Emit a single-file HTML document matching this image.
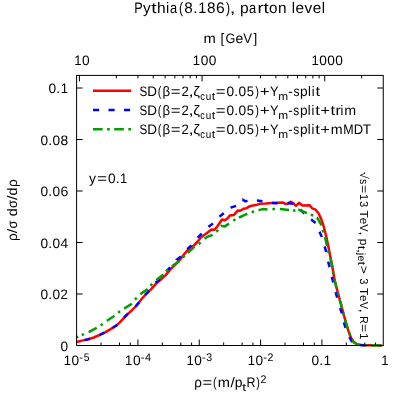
<!DOCTYPE html>
<html><head><meta charset="utf-8"><title>plot</title>
<style>html,body{margin:0;padding:0;background:#fff;}svg{display:block;will-change:transform;}svg text{text-rendering:geometricPrecision;}text{fill:#000;}</style></head><body>
<svg width="407" height="407" viewBox="0 0 407 407">
<rect width="407" height="407" fill="#fff"/>
<g fill="none" stroke-width="2.5" stroke-linejoin="round" stroke-linecap="butt">
<polyline stroke="#ff0000" points="76.6,342.0 81.9,340.6 87.8,339.4 93.7,337.5 99.6,335.0 105.5,332.1 111.4,328.6 116.0,325.8 119.5,322.6 122.8,319.1 126.7,314.9 131.7,310.5 135.6,306.5 138.5,303.1 141.5,299.2 145.4,294.7 148.9,291.3 151.0,289.3 155.9,283.9 160.8,279.5 165.7,275.1 170.6,269.2 175.5,264.3 180.4,259.3 184.2,254.1 188.9,248.9 193.8,245.5 197.8,241.5 200.7,237.6 204.6,234.7 208.6,231.7 211.5,229.5 214.5,229.7 217.4,226.3 220.0,222.5 222.0,219.5 224.9,220.3 227.4,218.5 229.8,215.4 233.8,215.1 237.7,210.6 240.1,210.8 243.6,208.7 246.5,208.2 250.5,205.9 254.4,205.2 257.3,204.7 259.9,203.7 265.8,203.4 271.7,202.9 277.6,202.7 282.5,202.5 285.5,203.9 287.5,203.7 290.9,201.7 293.3,203.2 295.9,205.8 298.9,202.9 302.8,205.6 309.7,205.3 312.1,208.3 315.6,209.7 318.5,213.2 321.0,218.6 323.4,225.5 325.4,233.3 326.2,235.9 328.2,245.7 330.1,255.5 332.1,265.3 332.9,270.0 334.5,279.6 336.1,286.0 338.5,295.0 339.8,300.0 341.1,304.3 342.0,308.0 344.1,315.9 346.2,323.7 348.7,331.6 351.1,338.0 353.6,341.9 356.5,344.1 360.5,345.0 370.0,345.3 382.2,345.5"/>
<path stroke="#0000ff" d="M84.6,340.0 L87.8,339.4 L90.1,338.7 M99.4,335.1 L99.6,335.0 L104.5,332.6 M112.7,327.8 L116.0,325.8 L117.3,324.6 M124.1,317.7 L126.7,314.9 L128.1,313.7 M135.5,306.6 L135.6,306.5 L138.5,303.1 L139.1,302.3 M145.3,294.9 L145.4,294.7 L148.9,291.0 L149.1,290.7 M155.5,282.8 L159.3,279.8 L159.8,279.2 M166.2,271.3 L166.2,271.3 L170.1,267.5 L170.2,267.4 M176.5,260.1 L176.5,260.0 L180.9,256.5 L180.9,256.5 M187.3,249.1 L187.4,249.0 L191.4,245.4 L191.5,245.3 M197.7,237.8 L197.8,237.6 L201.7,233.7 M208.5,226.9 L208.6,226.8 L213.0,223.6 L213.0,223.6 M219.5,216.8 L220.0,216.2 L223.4,213.6 L223.9,213.2 M230.6,207.8 L230.8,207.7 L236.0,205.8 M242.5,199.7 L242.6,199.6 L245.6,201.3 L247.5,200.6 M256.9,200.5 L257.2,200.5 L262.4,201.2 L262.5,201.2 M272.0,202.9 L272.2,202.9 L277.7,203.2 M287.7,203.2 L287.9,203.2 L293.4,203.7 M300.3,209.4 L300.4,209.5 L303.8,213.2 L304.2,213.5 M311.0,219.5 L311.2,219.6 L315.6,223.0 M319.5,231.7 L319.6,231.9 L321.6,236.5 L321.7,237.0 M324.6,246.5 L324.7,246.7 L326.2,252.0 M328.1,261.6 L328.2,261.9 L329.6,267.1 M331.7,277.0 L331.8,277.3 L333.3,282.2 L333.4,282.5 M335.6,292.2 L335.7,292.5 L337.1,297.4 L337.2,297.7 M340.1,308.1 L341.6,312.4 L341.9,313.5 M343.9,322.4 L345.3,327.2 L345.6,327.8 M349.3,337.1 L352.0,341.6 L352.3,341.9 M360.3,345.0 L360.5,345.0 L364.4,345.3 L366.0,345.3"/>
<path stroke="#00a000" d="M76.6,337.4 L78.3,336.7 M88.6,332.2 L88.8,332.1 L96.1,328.1 L96.7,327.7 M106.8,320.9 L107.0,320.8 L113.8,316.2 L114.4,315.7 M124.1,308.6 L124.3,308.5 L131.2,304.1 L131.7,303.5 M140.4,294.4 L140.5,294.3 L143.5,291.8 L146.9,289.8 L147.7,288.9 M156.3,280.1 L156.4,280.0 L162.7,275.1 L163.4,274.4 M172.0,266.3 L172.1,266.2 L179.0,261.3 L179.4,260.9 M187.8,252.9 L187.9,252.8 L194.3,246.9 L194.5,246.7 M204.5,238.7 L204.6,238.6 L208.0,236.5 L212.0,235.1 L212.6,234.6 M220.8,225.9 L220.9,225.8 L224.9,226.4 L229.0,223.6 M239.0,217.6 L239.2,217.5 L246.5,214.1 L247.4,213.8 M258.4,210.1 L258.5,210.1 L262.9,209.1 L267.3,209.4 L267.5,209.4 M279.9,209.1 L280.1,209.1 L288.9,210.1 L289.0,210.1 M298.2,209.7 L298.4,209.7 L306.7,213.0 L306.8,213.0 M316.9,217.5 L317.1,217.6 L321.0,224.5 L321.3,225.5 M325.0,237.0 L325.1,237.3 L327.0,246.0 M330.4,258.2 L330.5,258.5 L332.3,267.2 M334.3,279.1 L334.4,279.6 L336.0,286.0 L336.5,288.0 M339.6,299.6 L339.7,300.0 L341.0,304.3 L341.9,308.0 L342.0,308.5 M81.7,335.2 L82.9,334.7 L84.1,334.2 M100.6,325.4 L101.7,324.7 L102.7,323.9 M118.1,312.7 L119.1,311.9 L120.2,311.2 M135.0,299.7 L135.9,298.7 L136.8,297.8 M150.5,285.8 L151.3,284.9 L152.3,283.9 M166.3,271.5 L167.2,270.6 L168.2,269.7 M182.7,257.6 L183.6,256.7 L184.6,255.8 M198.6,244.0 L199.7,243.3 L200.6,242.4 M216.2,231.7 L217.2,230.9 L218.0,229.8 M233.2,220.7 L234.3,220.0 L235.5,219.4 M251.7,212.2 L252.9,211.8 L254.1,211.4 M272.4,209.2 L273.7,209.1 L275.0,209.1 M292.9,210.5 L294.2,210.6 L295.4,210.3 M310.8,214.6 L312.0,215.1 L313.2,215.7 M322.8,229.9 L323.2,231.2 L323.6,232.4 M328.2,250.5 L328.6,251.9 L328.9,253.1 M333.0,271.4 L333.5,274.0 M337.8,292.6 L338.4,295.0 L338.4,295.1 M343.2,312.7 L343.8,315.2 M345.1,319.9 L346.2,323.7 L347.8,328.8 M349.2,333.0 L350.1,335.5 M352.3,339.8 L353.6,341.9 L356.5,344.1 L359.5,344.8 M364.0,345.1 L366.6,345.2 M371.5,345.3 L380.7,345.5"/>
<path stroke="#ff0000" d="M93,90.8 H131.2"/>
<path stroke="#0000ff" stroke-dasharray="6.1 9.4" d="M93,110.0 H131.2"/>
<path stroke="#00a000" stroke-dasharray="9.6 4.5 2.7 4.4" d="M93,129.3 H131.2"/>
</g>
<g stroke="#000" stroke-width="1" fill="none" shape-rendering="auto">
<path d="M101.01,345.5 v-3.0"/>
<path d="M119.47,345.5 v-3.0"/>
<path d="M130.27,345.5 v-3.0"/>
<path d="M137.93,345.5 v-6.0"/>
<path d="M162.34,345.5 v-3.0"/>
<path d="M180.80,345.5 v-3.0"/>
<path d="M191.60,345.5 v-3.0"/>
<path d="M199.26,345.5 v-6.0"/>
<path d="M223.67,345.5 v-3.0"/>
<path d="M242.13,345.5 v-3.0"/>
<path d="M252.93,345.5 v-3.0"/>
<path d="M260.59,345.5 v-6.0"/>
<path d="M285.00,345.5 v-3.0"/>
<path d="M303.46,345.5 v-3.0"/>
<path d="M314.26,345.5 v-3.0"/>
<path d="M321.92,345.5 v-6.0"/>
<path d="M346.33,345.5 v-3.0"/>
<path d="M364.79,345.5 v-3.0"/>
<path d="M375.59,345.5 v-3.0"/>
<path d="M79.41,75.4 v6.0"/>
<path d="M116.33,75.4 v3.0"/>
<path d="M137.93,75.4 v3.0"/>
<path d="M153.25,75.4 v3.0"/>
<path d="M165.14,75.4 v3.0"/>
<path d="M174.85,75.4 v3.0"/>
<path d="M183.07,75.4 v3.0"/>
<path d="M190.18,75.4 v3.0"/>
<path d="M196.45,75.4 v3.0"/>
<path d="M202.07,75.4 v6.0"/>
<path d="M238.99,75.4 v3.0"/>
<path d="M260.59,75.4 v3.0"/>
<path d="M275.91,75.4 v3.0"/>
<path d="M287.80,75.4 v3.0"/>
<path d="M297.51,75.4 v3.0"/>
<path d="M305.73,75.4 v3.0"/>
<path d="M312.84,75.4 v3.0"/>
<path d="M319.11,75.4 v3.0"/>
<path d="M324.73,75.4 v6.0"/>
<path d="M361.65,75.4 v3.0"/>
<path d="M76.6,294.00 h6.0"/>
<path d="M383.25,294.00 h-6.0"/>
<path d="M76.6,242.50 h6.0"/>
<path d="M383.25,242.50 h-6.0"/>
<path d="M76.6,191.00 h6.0"/>
<path d="M383.25,191.00 h-6.0"/>
<path d="M76.6,139.50 h6.0"/>
<path d="M383.25,139.50 h-6.0"/>
<path d="M76.6,88.00 h6.0"/>
<path d="M383.25,88.00 h-6.0"/>
</g>
<rect x="76.6" y="75.4" width="306.65" height="270.1" fill="none" stroke="#000" stroke-width="1"/>
<g font-family="'Liberation Sans', sans-serif">
<text transform="translate(134.37,13.20) scale(0.829,1)" font-size="15.26">P</text>
<text transform="translate(143.01,13.20) scale(1.006,1)" font-size="15.26">y</text>
<text transform="translate(151.17,13.20) scale(1.252,1)" font-size="15.26">t</text>
<text transform="translate(156.91,13.20) scale(1.017,1)" font-size="15.26">h</text>
<text transform="translate(166.11,13.20) scale(0.958,1)" font-size="15.26">i</text>
<text transform="translate(170.03,13.20) scale(0.842,1)" font-size="15.26">a</text>
<text transform="translate(178.93,13.20) scale(0.800,1)" font-size="15.26">(</text>
<text transform="translate(184.36,13.20) scale(0.998,1)" font-size="15.26">8</text>
<text transform="translate(193.26,13.20) scale(1.014,1)" font-size="15.26">.</text>
<text transform="translate(198.17,13.20) scale(0.943,1)" font-size="15.26">1</text>
<text transform="translate(207.10,13.20) scale(0.998,1)" font-size="15.26">8</text>
<text transform="translate(216.09,13.20) scale(1.022,1)" font-size="15.26">6</text>
<text transform="translate(226.03,13.20) scale(0.800,1)" font-size="15.26">)</text>
<text transform="translate(229.82,13.20) scale(1.350,1)" font-size="15.26">,</text>
<text transform="translate(239.94,13.20) scale(1.019,1)" font-size="15.26">p</text>
<text transform="translate(249.03,13.20) scale(0.842,1)" font-size="15.26">a</text>
<text transform="translate(257.56,13.20) scale(1.200,1)" font-size="15.26">r</text>
<text transform="translate(263.45,13.20) scale(1.252,1)" font-size="15.26">t</text>
<text transform="translate(269.11,13.20) scale(0.996,1)" font-size="15.26">o</text>
<text transform="translate(277.98,13.20) scale(1.010,1)" font-size="15.26">n</text>
<text transform="translate(291.67,13.20) scale(0.958,1)" font-size="15.26">l</text>
<text transform="translate(295.41,13.20) scale(1.012,1)" font-size="15.26">e</text>
<text transform="translate(304.45,13.20) scale(1.011,1)" font-size="15.26">v</text>
<text transform="translate(312.67,13.20) scale(1.012,1)" font-size="15.26">e</text>
<text transform="translate(321.69,13.20) scale(0.958,1)" font-size="15.26">l</text>
<text transform="translate(203.50,42.90) scale(1.075,1)" font-size="13.77">m</text>
<text transform="translate(220.45,42.90) scale(0.983,1)" font-size="13.77">[</text>
<text transform="translate(225.39,42.90) scale(0.920,1)" font-size="13.77">G</text>
<text transform="translate(235.42,42.90) scale(1.019,1)" font-size="13.77">e</text>
<text transform="translate(243.34,42.90) scale(0.958,1)" font-size="13.77">V</text>
<text transform="translate(253.46,42.90) scale(0.983,1)" font-size="13.77">]</text>
<text transform="translate(74.14,65.00) scale(0.950,1)" font-size="13.77">1</text>
<text transform="translate(82.03,65.00) scale(0.995,1)" font-size="13.77">0</text>
<text transform="translate(192.80,65.00) scale(0.950,1)" font-size="13.77">1</text>
<text transform="translate(200.69,65.00) scale(0.995,1)" font-size="13.77">0</text>
<text transform="translate(208.69,65.00) scale(0.995,1)" font-size="13.77">0</text>
<text transform="translate(311.46,65.00) scale(0.950,1)" font-size="13.77">1</text>
<text transform="translate(319.35,65.00) scale(0.995,1)" font-size="13.77">0</text>
<text transform="translate(327.35,65.00) scale(0.995,1)" font-size="13.77">0</text>
<text transform="translate(335.35,65.00) scale(0.995,1)" font-size="13.77">0</text>
<text transform="translate(60.52,350.50) scale(0.995,1)" font-size="13.77">0</text>
<text transform="translate(40.52,299.00) scale(0.995,1)" font-size="13.77">0</text>
<text transform="translate(48.31,299.00) scale(1.021,1)" font-size="13.77">.</text>
<text transform="translate(52.52,299.00) scale(0.995,1)" font-size="13.77">0</text>
<text transform="translate(60.49,299.00) scale(0.959,1)" font-size="13.77">2</text>
<text transform="translate(40.52,247.50) scale(0.995,1)" font-size="13.77">0</text>
<text transform="translate(48.31,247.50) scale(1.021,1)" font-size="13.77">.</text>
<text transform="translate(52.52,247.50) scale(0.995,1)" font-size="13.77">0</text>
<text transform="translate(60.52,247.50) scale(0.995,1)" font-size="13.77">4</text>
<text transform="translate(40.52,196.00) scale(0.995,1)" font-size="13.77">0</text>
<text transform="translate(48.31,196.00) scale(1.021,1)" font-size="13.77">.</text>
<text transform="translate(52.52,196.00) scale(0.995,1)" font-size="13.77">0</text>
<text transform="translate(60.39,196.00) scale(1.030,1)" font-size="13.77">6</text>
<text transform="translate(40.52,144.50) scale(0.995,1)" font-size="13.77">0</text>
<text transform="translate(48.31,144.50) scale(1.021,1)" font-size="13.77">.</text>
<text transform="translate(52.52,144.50) scale(0.995,1)" font-size="13.77">0</text>
<text transform="translate(60.48,144.50) scale(1.006,1)" font-size="13.77">8</text>
<text transform="translate(48.52,93.00) scale(0.995,1)" font-size="13.77">0</text>
<text transform="translate(56.31,93.00) scale(1.021,1)" font-size="13.77">.</text>
<text transform="translate(60.63,93.00) scale(0.950,1)" font-size="13.77">1</text>
<text transform="translate(63.73,364.80) scale(0.950,1)" font-size="13.77">1</text>
<text transform="translate(71.62,364.80) scale(0.995,1)" font-size="13.77">0</text>
<text transform="translate(79.31,360.80) scale(1.017,1)" font-size="11.02">-</text>
<text transform="translate(83.69,360.80) scale(0.939,1)" font-size="11.02">5</text>
<text transform="translate(125.06,364.80) scale(0.950,1)" font-size="13.77">1</text>
<text transform="translate(132.95,364.80) scale(0.995,1)" font-size="13.77">0</text>
<text transform="translate(140.64,360.80) scale(1.017,1)" font-size="11.02">-</text>
<text transform="translate(144.89,360.80) scale(0.995,1)" font-size="11.02">4</text>
<text transform="translate(186.39,364.80) scale(0.950,1)" font-size="13.77">1</text>
<text transform="translate(194.28,364.80) scale(0.995,1)" font-size="13.77">0</text>
<text transform="translate(201.97,360.80) scale(1.017,1)" font-size="11.02">-</text>
<text transform="translate(206.35,360.80) scale(0.955,1)" font-size="11.02">3</text>
<text transform="translate(247.72,364.80) scale(0.950,1)" font-size="13.77">1</text>
<text transform="translate(255.61,364.80) scale(0.995,1)" font-size="13.77">0</text>
<text transform="translate(263.30,360.80) scale(1.017,1)" font-size="11.02">-</text>
<text transform="translate(267.52,360.80) scale(0.959,1)" font-size="11.02">2</text>
<text transform="translate(311.54,364.80) scale(0.995,1)" font-size="13.77">0</text>
<text transform="translate(319.33,364.80) scale(1.021,1)" font-size="13.77">.</text>
<text transform="translate(323.65,364.80) scale(0.950,1)" font-size="13.77">1</text>
<text transform="translate(381.18,364.80) scale(0.950,1)" font-size="13.77">1</text>
<text transform="translate(194.29,387.20) scale(0.980,1)" font-size="13.77">ρ</text>
<text transform="translate(202.44,387.20) scale(1.199,1)" font-size="13.77">=</text>
<text transform="translate(213.12,387.20) scale(0.800,1)" font-size="13.77">(</text>
<text transform="translate(217.85,387.20) scale(1.060,1)" font-size="13.77">m</text>
<text transform="translate(230.47,387.20) scale(1.128,1)" font-size="13.77">/</text>
<text transform="translate(234.68,387.20) scale(1.012,1)" font-size="13.77">p</text>
<text transform="translate(242.37,391.10) scale(1.261,1)" font-size="11.02">t</text>
<text transform="translate(246.56,387.20) scale(0.903,1)" font-size="13.77">R</text>
<text transform="translate(256.27,387.20) scale(0.800,1)" font-size="13.77">)</text>
<text transform="translate(260.53,383.20) scale(0.959,1)" font-size="11.02">2</text>
<g transform="translate(16.7,210.2) rotate(-90)">
<text transform="translate(-30.89,0.00) scale(0.994,1)" font-size="13.77">ρ</text>
<text transform="translate(-22.94,0.00) scale(1.144,1)" font-size="13.77">/</text>
<text transform="translate(-18.38,0.00) scale(0.926,1)" font-size="13.77">σ</text>
<text transform="translate(-6.06,0.00) scale(1.026,1)" font-size="13.77">d</text>
<text transform="translate(2.25,0.00) scale(0.926,1)" font-size="13.77">σ</text>
<text transform="translate(10.31,0.00) scale(1.144,1)" font-size="13.77">/</text>
<text transform="translate(14.81,0.00) scale(1.026,1)" font-size="13.77">d</text>
<text transform="translate(23.24,0.00) scale(0.994,1)" font-size="13.77">ρ</text>
</g>
<text transform="translate(88.95,182.90) scale(1.013,1)" font-size="13.77">y</text>
<text transform="translate(97.16,182.90) scale(1.216,1)" font-size="13.77">=</text>
<text transform="translate(107.92,182.90) scale(0.995,1)" font-size="13.77">0</text>
<text transform="translate(115.71,182.90) scale(1.021,1)" font-size="13.77">.</text>
<text transform="translate(120.03,182.90) scale(0.950,1)" font-size="13.77">1</text>
<text transform="translate(139.53,95.80) scale(0.841,1)" font-size="13.77">S</text>
<text transform="translate(147.37,95.80) scale(0.976,1)" font-size="13.77">D</text>
<text transform="translate(157.63,95.80) scale(0.800,1)" font-size="13.77">(</text>
<text transform="translate(162.51,95.80) scale(0.957,1)" font-size="13.77">β</text>
<text transform="translate(170.76,95.80) scale(1.216,1)" font-size="13.77">=</text>
<text transform="translate(181.49,95.80) scale(0.959,1)" font-size="13.77">2</text>
<text transform="translate(188.55,95.80) scale(1.350,1)" font-size="13.77">,</text>
<text transform="translate(193.24,95.80) scale(1.103,1)" font-size="13.77">ζ</text>
<text transform="translate(200.32,99.70) scale(0.836,1)" font-size="11.02">c</text>
<text transform="translate(205.63,99.70) scale(0.898,1)" font-size="11.02">u</text>
<text transform="translate(211.73,99.70) scale(1.113,1)" font-size="11.02">t</text>
<text transform="translate(215.76,95.80) scale(1.216,1)" font-size="13.77">=</text>
<text transform="translate(226.52,95.80) scale(0.995,1)" font-size="13.77">0</text>
<text transform="translate(234.31,95.80) scale(1.021,1)" font-size="13.77">.</text>
<text transform="translate(238.52,95.80) scale(0.995,1)" font-size="13.77">0</text>
<text transform="translate(246.69,95.80) scale(0.939,1)" font-size="13.77">5</text>
<text transform="translate(255.17,95.80) scale(0.800,1)" font-size="13.77">)</text>
<text transform="translate(259.76,95.80) scale(1.216,1)" font-size="13.77">+</text>
<text transform="translate(269.89,95.80) scale(0.931,1)" font-size="13.77">Y</text>
<text transform="translate(278.36,99.70) scale(1.075,1)" font-size="11.02">m</text>
<text transform="translate(288.21,95.80) scale(0.987,1)" font-size="13.77">-</text>
<text transform="translate(293.40,95.80) scale(0.877,1)" font-size="13.77">s</text>
<text transform="translate(300.10,95.80) scale(0.996,1)" font-size="13.77">p</text>
<text transform="translate(307.91,95.80) scale(0.935,1)" font-size="13.77">l</text>
<text transform="translate(311.80,95.80) scale(0.935,1)" font-size="13.77">i</text>
<text transform="translate(315.44,95.80) scale(1.223,1)" font-size="13.77">t</text>
<text transform="translate(139.53,114.90) scale(0.841,1)" font-size="13.77">S</text>
<text transform="translate(147.37,114.90) scale(0.976,1)" font-size="13.77">D</text>
<text transform="translate(157.63,114.90) scale(0.800,1)" font-size="13.77">(</text>
<text transform="translate(162.51,114.90) scale(0.957,1)" font-size="13.77">β</text>
<text transform="translate(170.76,114.90) scale(1.216,1)" font-size="13.77">=</text>
<text transform="translate(181.49,114.90) scale(0.959,1)" font-size="13.77">2</text>
<text transform="translate(188.55,114.90) scale(1.350,1)" font-size="13.77">,</text>
<text transform="translate(193.24,114.90) scale(1.103,1)" font-size="13.77">ζ</text>
<text transform="translate(200.32,118.80) scale(0.836,1)" font-size="11.02">c</text>
<text transform="translate(205.63,118.80) scale(0.898,1)" font-size="11.02">u</text>
<text transform="translate(211.73,118.80) scale(1.113,1)" font-size="11.02">t</text>
<text transform="translate(215.76,114.90) scale(1.216,1)" font-size="13.77">=</text>
<text transform="translate(226.52,114.90) scale(0.995,1)" font-size="13.77">0</text>
<text transform="translate(234.31,114.90) scale(1.021,1)" font-size="13.77">.</text>
<text transform="translate(238.52,114.90) scale(0.995,1)" font-size="13.77">0</text>
<text transform="translate(246.69,114.90) scale(0.939,1)" font-size="13.77">5</text>
<text transform="translate(255.17,114.90) scale(0.800,1)" font-size="13.77">)</text>
<text transform="translate(259.76,114.90) scale(1.216,1)" font-size="13.77">+</text>
<text transform="translate(269.89,114.90) scale(0.931,1)" font-size="13.77">Y</text>
<text transform="translate(278.36,118.80) scale(1.075,1)" font-size="11.02">m</text>
<text transform="translate(288.21,114.90) scale(0.979,1)" font-size="13.77">-</text>
<text transform="translate(293.35,114.90) scale(0.870,1)" font-size="13.77">s</text>
<text transform="translate(300.00,114.90) scale(0.988,1)" font-size="13.77">p</text>
<text transform="translate(307.76,114.90) scale(0.928,1)" font-size="13.77">l</text>
<text transform="translate(311.61,114.90) scale(0.928,1)" font-size="13.77">i</text>
<text transform="translate(315.22,114.90) scale(1.213,1)" font-size="13.77">t</text>
<text transform="translate(320.48,114.90) scale(1.170,1)" font-size="13.77">+</text>
<text transform="translate(330.61,114.90) scale(1.213,1)" font-size="13.77">t</text>
<text transform="translate(335.41,114.90) scale(1.163,1)" font-size="13.77">r</text>
<text transform="translate(340.47,114.90) scale(0.928,1)" font-size="13.77">i</text>
<text transform="translate(344.18,114.90) scale(1.034,1)" font-size="13.77">m</text>
<text transform="translate(139.53,134.20) scale(0.841,1)" font-size="13.77">S</text>
<text transform="translate(147.37,134.20) scale(0.976,1)" font-size="13.77">D</text>
<text transform="translate(157.63,134.20) scale(0.800,1)" font-size="13.77">(</text>
<text transform="translate(162.51,134.20) scale(0.957,1)" font-size="13.77">β</text>
<text transform="translate(170.76,134.20) scale(1.216,1)" font-size="13.77">=</text>
<text transform="translate(181.49,134.20) scale(0.959,1)" font-size="13.77">2</text>
<text transform="translate(188.55,134.20) scale(1.350,1)" font-size="13.77">,</text>
<text transform="translate(193.24,134.20) scale(1.103,1)" font-size="13.77">ζ</text>
<text transform="translate(200.32,138.10) scale(0.836,1)" font-size="11.02">c</text>
<text transform="translate(205.63,138.10) scale(0.898,1)" font-size="11.02">u</text>
<text transform="translate(211.73,138.10) scale(1.113,1)" font-size="11.02">t</text>
<text transform="translate(215.76,134.20) scale(1.216,1)" font-size="13.77">=</text>
<text transform="translate(226.52,134.20) scale(0.995,1)" font-size="13.77">0</text>
<text transform="translate(234.31,134.20) scale(1.021,1)" font-size="13.77">.</text>
<text transform="translate(238.52,134.20) scale(0.995,1)" font-size="13.77">0</text>
<text transform="translate(246.69,134.20) scale(0.939,1)" font-size="13.77">5</text>
<text transform="translate(255.17,134.20) scale(0.800,1)" font-size="13.77">)</text>
<text transform="translate(259.76,134.20) scale(1.216,1)" font-size="13.77">+</text>
<text transform="translate(269.89,134.20) scale(0.931,1)" font-size="13.77">Y</text>
<text transform="translate(278.36,138.10) scale(1.075,1)" font-size="11.02">m</text>
<text transform="translate(288.21,134.20) scale(0.978,1)" font-size="13.77">-</text>
<text transform="translate(293.35,134.20) scale(0.870,1)" font-size="13.77">s</text>
<text transform="translate(300.00,134.20) scale(0.987,1)" font-size="13.77">p</text>
<text transform="translate(307.75,134.20) scale(0.928,1)" font-size="13.77">l</text>
<text transform="translate(311.60,134.20) scale(0.928,1)" font-size="13.77">i</text>
<text transform="translate(315.21,134.20) scale(1.213,1)" font-size="13.77">t</text>
<text transform="translate(320.47,134.20) scale(1.169,1)" font-size="13.77">+</text>
<text transform="translate(330.70,134.20) scale(1.034,1)" font-size="13.77">m</text>
<text transform="translate(343.22,134.20) scale(0.905,1)" font-size="13.77">M</text>
<text transform="translate(353.76,134.20) scale(0.939,1)" font-size="13.77">D</text>
<text transform="translate(362.86,134.20) scale(0.990,1)" font-size="13.77">T</text>
<g transform="translate(360.3,171.8) rotate(90)">
<text transform="translate(0.01,0.00) scale(1.096,1)" font-size="11.55">√</text>
<text transform="translate(7.25,0.00) scale(0.905,1)" font-size="11.55">s</text>
<text transform="translate(13.09,0.00) scale(1.216,1)" font-size="11.55">=</text>
<text transform="translate(22.12,0.00) scale(0.950,1)" font-size="11.55">1</text>
<text transform="translate(29.10,0.00) scale(0.955,1)" font-size="11.55">3</text>
<text transform="translate(38.79,0.00) scale(1.029,1)" font-size="11.55">T</text>
<text transform="translate(45.85,0.00) scale(1.019,1)" font-size="11.55">e</text>
<text transform="translate(52.49,0.00) scale(0.958,1)" font-size="11.55">V</text>
<text transform="translate(59.37,0.00) scale(1.350,1)" font-size="11.55">,</text>
<text transform="translate(67.07,0.00) scale(1.027,1)" font-size="11.55">p</text>
<text transform="translate(73.83,2.40) scale(1.261,1)" font-size="10.49">t</text>
<text transform="translate(77.15,2.40) scale(1.350,1)" font-size="10.49">,</text>
<text transform="translate(80.88,2.40) scale(1.065,1)" font-size="10.49">j</text>
<text transform="translate(83.63,2.40) scale(1.019,1)" font-size="10.49">e</text>
<text transform="translate(89.70,2.40) scale(1.261,1)" font-size="10.49">t</text>
<text transform="translate(93.98,0.00) scale(1.216,1)" font-size="11.55">&gt;</text>
<text transform="translate(106.52,0.00) scale(0.955,1)" font-size="11.55">3</text>
<text transform="translate(116.21,0.00) scale(1.029,1)" font-size="11.55">T</text>
<text transform="translate(123.27,0.00) scale(1.019,1)" font-size="11.55">e</text>
<text transform="translate(129.91,0.00) scale(0.958,1)" font-size="11.55">V</text>
<text transform="translate(136.79,0.00) scale(1.350,1)" font-size="11.55">,</text>
<text transform="translate(144.48,0.00) scale(0.903,1)" font-size="11.55">R</text>
<text transform="translate(152.30,0.00) scale(1.216,1)" font-size="11.55">=</text>
<text transform="translate(161.33,0.00) scale(0.950,1)" font-size="11.55">1</text>
</g>
</g>
</svg></body></html>
